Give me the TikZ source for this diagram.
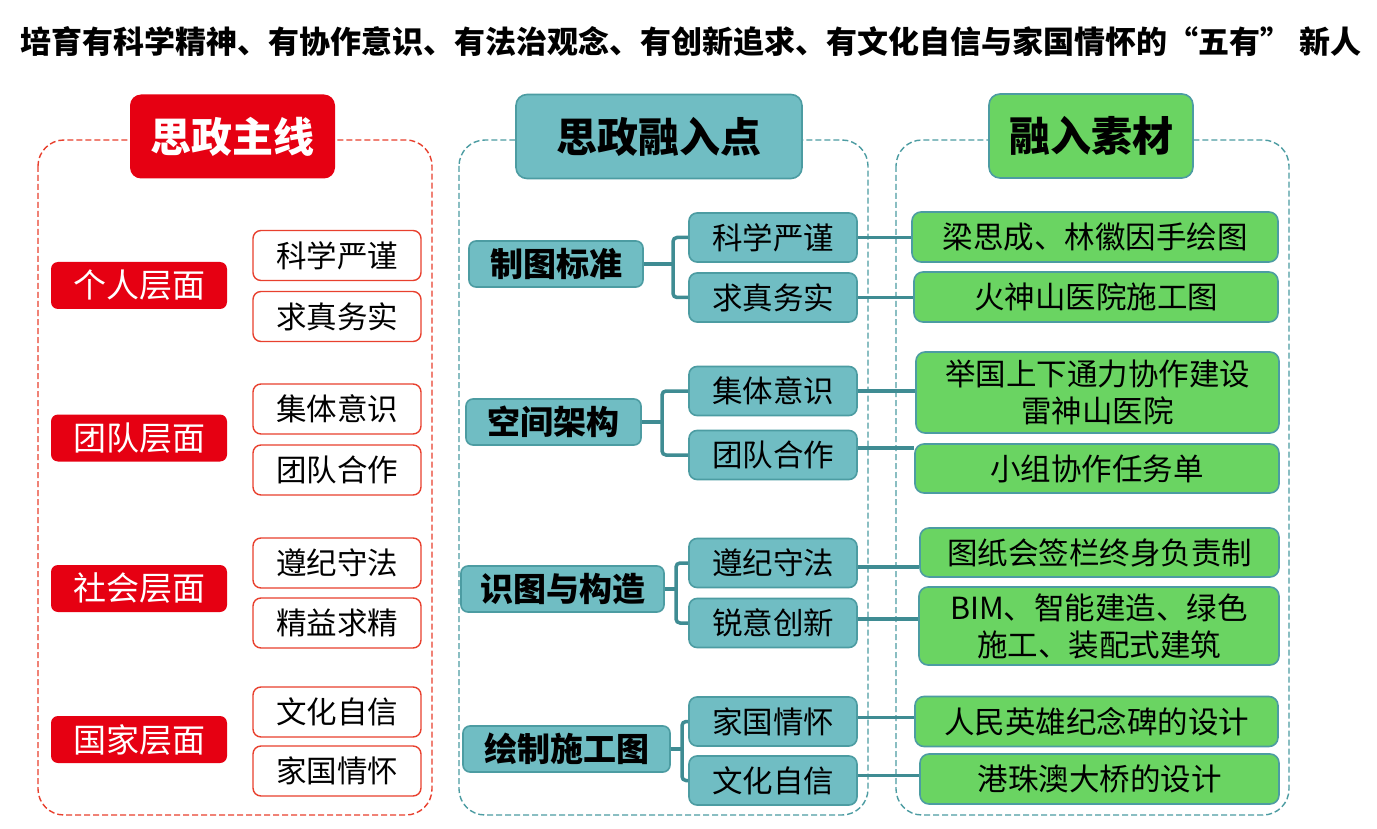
\documentclass[tikz,border=0pt]{standalone}
\usepackage{fontspec}
\setmainfont{Noto Sans CJK SC}
\definecolor{zsred}{HTML}{E60012}
\definecolor{zsline}{HTML}{E8402E}
\definecolor{tealfill}{HTML}{70BDC3}
\definecolor{tealdraw}{HTML}{4C9CA2}
\definecolor{tealdark}{HTML}{3F8C93}
\definecolor{grnfill}{HTML}{6AD462}
\tikzset{
  hdrbox/.style={rounded corners=11pt, line width=1.6pt, inner sep=0pt, minimum height=84pt, font=\fontsize{41}{48}\selectfont\bfseries},
  lvlbox/.style={fill=zsred, text=white, rounded corners=7pt, inner sep=0pt, minimum width=176pt, minimum height=47pt, font=\fontsize{33}{40}\selectfont},
  valbox/.style={draw=zsline, fill=white, line width=1.4pt, rounded corners=8pt, inner sep=0pt, minimum width=168pt, minimum height=50pt, font=\fontsize{30.5}{37}\selectfont},
  catbox/.style={draw=tealdraw, fill=tealfill, line width=1.6pt, rounded corners=7pt, inner sep=0pt, minimum height=46pt, font=\fontsize{33}{40}\selectfont\bfseries},
  subbox/.style={draw=tealdraw, fill=tealfill, line width=1.6pt, rounded corners=8pt, inner sep=0pt, minimum width=168pt, minimum height=49pt, font=\fontsize{30.5}{37}\selectfont},
  matbox/.style={draw=tealdraw, fill=grnfill, line width=1.6pt, rounded corners=9pt, inner sep=0pt, minimum height=50pt, align=center, font=\fontsize{30.5}{37}\selectfont},
  frame/.style={dashed, dash pattern=on 6pt off 3pt, line width=1.4pt, rounded corners=26pt},
  brace/.style={tealdark, line width=3.5pt},
  link/.style={tealdark, line width=3.5pt}
}
\begin{document}
\begin{tikzpicture}[x=1pt,y=-1pt]
  \useasboundingbox[fill=white] (0,0) rectangle (1377,829);
  \node (title) at (691,42) {\fontsize{31}{37}\selectfont\bfseries 培育有科学精神、有协作意识、有法治观念、有创新追求、有文化自信与家国情怀的“五有” 新人};
  % dashed frames
  \draw[frame, zsline] (38,140) rectangle (432,815);
  \draw[frame, tealdraw] (459,140) rectangle (868,815);
  \draw[frame, tealdraw] (896,140) rectangle (1289,815);
  % headers
  \node[hdrbox, fill=zsred, text=white, minimum width=205pt] (hzs) at (232.5,136.5) {思政主线};
  \node[hdrbox, draw=tealdraw, fill=tealfill, minimum width=286pt] (hrr) at (659,136.5) {思政融入点};
  \node[hdrbox, draw=tealdraw, fill=grnfill, minimum width=204pt] (hsc) at (1091,136) {融入素材};
  % left column
  \node[lvlbox] (lv1) at (139,285.5) {个人层面};
  \node[lvlbox] (lv2) at (139,438) {团队层面};
  \node[lvlbox] (lv3) at (139,588.5) {社会层面};
  \node[lvlbox] (lv4) at (139,739.5) {国家层面};
  \node[valbox] (va1) at (337,255.5) {科学严谨};
  \node[valbox] (va2) at (337,316.5) {求真务实};
  \node[valbox] (va3) at (337,409) {集体意识};
  \node[valbox] (va4) at (337,470) {团队合作};
  \node[valbox] (va5) at (337,563) {遵纪守法};
  \node[valbox] (va6) at (337,623) {精益求精};
  \node[valbox] (va7) at (337,712) {文化自信};
  \node[valbox] (va8) at (337,771) {家国情怀};
  % middle column
  \node[catbox, minimum width=174pt] (ct1) at (556,264) {制图标准};
  \node[catbox, minimum width=175pt] (ct2) at (553.5,422) {空间架构};
  \node[catbox, minimum width=203pt] (ct3) at (562.5,589) {识图与构造};
  \node[catbox, minimum width=207pt] (ct4) at (566.5,749) {绘制施工图};
  \node[subbox] (sb1) at (773,237.5) {科学严谨};
  \node[subbox] (sb2) at (773,297.5) {求真务实};
  \node[subbox] (sb3) at (773,391) {集体意识};
  \node[subbox] (sb4) at (773,455) {团队合作};
  \node[subbox] (sb5) at (773,563) {遵纪守法};
  \node[subbox] (sb6) at (773,623) {锐意创新};
  \node[subbox] (sb7) at (773,721.5) {家国情怀};
  \node[subbox] (sb8) at (773,780.5) {文化自信};
  % right column
  \node[matbox, minimum width=366pt] (mt1) at (1095,237) {梁思成、林徽因手绘图};
  \node[matbox, minimum width=364pt] (mt2) at (1096,297) {火神山医院施工图};
  \node[matbox, minimum width=363pt, minimum height=81pt] (mt3) at (1097.5,392.5) {举国上下通力协作建设\\雷神山医院};
  \node[matbox, minimum width=364pt, minimum height=49pt] (mt4) at (1097,468.5) {小组协作任务单};
  \node[matbox, minimum width=359pt, minimum height=49pt] (mt5) at (1099.5,552.5) {图纸会签栏终身负责制};
  \node[matbox, minimum width=360pt, minimum height=78pt] (mt6) at (1099,626) {BIM、智能建造、绿色\\施工、装配式建筑};
  \node[matbox, minimum width=363pt] (mt7) at (1096.5,721.5) {人民英雄纪念碑的设计};
  \node[matbox, minimum width=359pt] (mt8) at (1099.5,779) {港珠澳大桥的设计};
  % brackets
  \coordinate (bx1) at (673,264);
  \coordinate (bx2) at (662,422);
  \coordinate (bx3) at (676,589);
  \coordinate (bx4) at (682,749);
  \foreach \c/\a/\b in {1/1/2, 2/3/4, 3/5/6, 4/7/8} {
    \draw[brace] (ct\c.east) -- (bx\c);
    \draw[brace, rounded corners=4pt] (sb\a.west) -| (bx\c) |- (sb\b.west);
  }
  % links to materials
  \draw[link] (sb1.east) -- (sb1.east -| mt1.west);
  \draw[link] (sb2.east) -- (sb2.east -| mt2.west);
  \draw[link] (sb3.east) -- (sb3.east -| mt3.west);
  \draw[link] ([yshift=7pt]sb4.east) -- ([yshift=7pt]sb4.east -| mt4.west);
  \draw[link] ([yshift=-4pt]sb5.east) -- ([yshift=-4pt]sb5.east -| mt5.west);
  \draw[link] ([yshift=4pt]sb6.east) -- ([yshift=4pt]sb6.east -| mt6.west);
  \draw[link] ([yshift=4pt]sb7.east) -- ([yshift=4pt]sb7.east -| mt7.west);
  \draw[link] ([yshift=5pt]sb8.east) -- ([yshift=5pt]sb8.east -| mt8.west);
\end{tikzpicture}
\end{document}
